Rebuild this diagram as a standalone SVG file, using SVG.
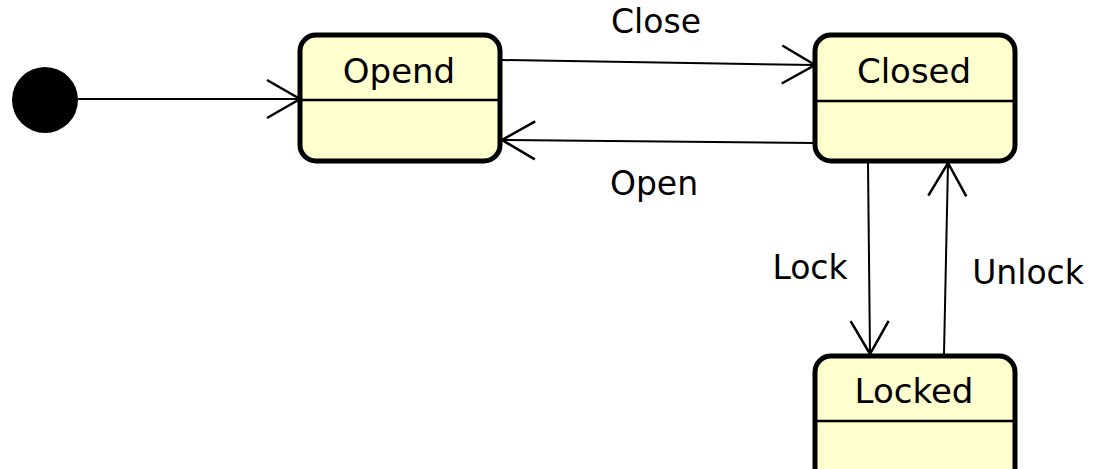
<svg xmlns="http://www.w3.org/2000/svg" width="1102" height="469" viewBox="0 0 1102 469">
<style>
.state rect{fill:#FEFECE;stroke:#000;stroke-width:5}
.state line{stroke:#000;stroke-width:2.5}
text{font-family:"DejaVu Sans",Verdana,sans-serif;font-size:33px;fill:#000;text-anchor:middle}
.state text{font-size:34px}
.edge{stroke:#000;stroke-width:2;fill:none}
</style>
<defs>
<marker id="open" markerUnits="userSpaceOnUse" markerWidth="40" markerHeight="44" refX="34" refY="20" orient="auto" viewBox="0 0 40 40">
<path d="M1,1 L34,20 L1,39" fill="none" stroke="#000" stroke-width="2.5"/>
</marker>
</defs>
<g id="initial"><circle cx="45" cy="100" r="33" fill="#000"/></g>
<g id="opend" class="state">
<rect x="300" y="35" width="200" height="126" rx="16"/>
<line x1="300" y1="100" x2="500" y2="100"/>
<text x="399" y="83">Opend</text>
</g>
<g id="closed" class="state">
<rect x="815" y="35" width="200" height="126" rx="16"/>
<line x1="815" y1="101" x2="1015" y2="101"/>
<text x="914" y="83">Closed</text>
</g>
<g id="locked" class="state">
<rect x="815" y="356" width="200" height="140" rx="16"/>
<line x1="815" y1="421" x2="1015" y2="421"/>
<text x="914" y="403">Locked</text>
</g>
<g id="connectors">
<line class="edge" x1="502" y1="60" x2="815" y2="65" marker-end="url(#open)"/>
<line class="edge" x1="78" y1="99" x2="300" y2="99" marker-end="url(#open)"/>
<line class="edge" x1="815" y1="143" x2="502" y2="140" marker-end="url(#open)"/>
<line class="edge" x1="868" y1="163" x2="870" y2="354" marker-end="url(#open)"/>
<line class="edge" x1="944" y1="354" x2="948" y2="163" marker-end="url(#open)"/>
<text x="656" y="33">Close</text>
<text x="654" y="195">Open</text>
<text x="810" y="279">Lock</text>
<text x="1028" y="284">Unlock</text>
</g>
</svg>
